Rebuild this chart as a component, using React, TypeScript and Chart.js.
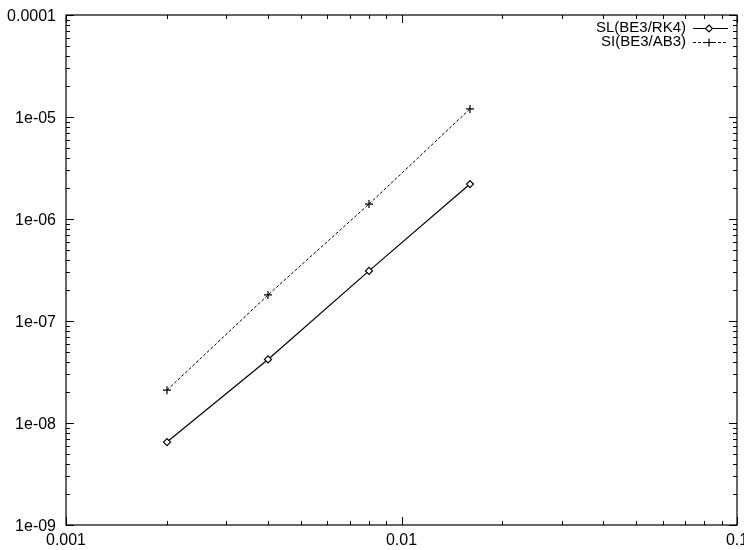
import React, { useEffect, useRef } from "react";
import { Chart, registerables } from "chart.js";

Chart.register(...registerables);

const xValues = [0.002, 0.004, 0.008, 0.016];
const slValues = [6.5e-9, 4.2e-8, 3.1e-7, 2.2e-6];
const siValues = [2.1e-8, 1.8e-7, 1.4e-6, 1.2e-5];
const seriesNames = ["SL(BE3/RK4)", "SI(BE3/AB3)"];

const xTickValues = [0.001, 0.01, 0.1];
const xTickLabels = ["0.001", "0.01", "0.1"];
const yTickValues = [1e-4, 1e-5, 1e-6, 1e-7, 1e-8, 1e-9];
const yTickLabels = ["0.0001", "1e-05", "1e-06", "1e-07", "1e-08", "1e-09"];

const FONT = "'Liberation Sans', Arial, sans-serif";

function minorValues(min: number, max: number): { v: number; major: boolean }[] {
  const out: { v: number; major: boolean }[] = [];
  let d = Math.pow(10, Math.floor(Math.log10(min) + 1e-9));
  while (d <= max * 1.0001) {
    for (let m = 1; m <= 9; m++) {
      const v = d * m;
      if (v >= min * 0.9999 && v <= max * 1.0001) out.push({ v, major: m === 1 });
    }
    d *= 10;
  }
  return out;
}

function drawMarker(ctx: CanvasRenderingContext2D, style: string, r: number, x: number, y: number) {
  ctx.save();
  ctx.strokeStyle = "#000";
  ctx.fillStyle = "#fff";
  ctx.lineWidth = 1.2;
  ctx.setLineDash([]);
  ctx.beginPath();
  if (style === "rectRot") {
    ctx.moveTo(x, y - r);
    ctx.lineTo(x + r, y);
    ctx.lineTo(x, y + r);
    ctx.lineTo(x - r, y);
    ctx.closePath();
    ctx.fill();
    ctx.stroke();
  } else {
    ctx.moveTo(x - r, y);
    ctx.lineTo(x + r, y);
    ctx.moveTo(x, y - r);
    ctx.lineTo(x, y + r);
    ctx.stroke();
  }
  ctx.restore();
}

const gnuplotPlugin = {
  id: "gnuplotFrame",
  afterDraw(chart: any) {
    const { ctx, chartArea, scales } = chart;
    const { left, right, top, bottom } = chartArea;
    const xs = scales.x;
    const ys = scales.y;
    ctx.save();
    ctx.strokeStyle = "#000";
    ctx.lineWidth = 1.2;
    ctx.strokeRect(left, top, right - left, bottom - top);

    const MAJ = 8;
    const MIN = 4;
    ctx.lineWidth = 1;
    ctx.beginPath();
    for (const t of minorValues(xs.min, xs.max)) {
      const px = Math.round(xs.getPixelForValue(t.v)) + 0.5;
      const len = t.major ? MAJ : MIN;
      ctx.moveTo(px, bottom);
      ctx.lineTo(px, bottom - len);
      ctx.moveTo(px, top);
      ctx.lineTo(px, top + len);
    }
    for (const t of minorValues(ys.min, ys.max)) {
      const py = Math.round(ys.getPixelForValue(t.v)) + 0.5;
      const len = t.major ? MAJ : MIN;
      ctx.moveTo(left, py);
      ctx.lineTo(left + len, py);
      ctx.moveTo(right, py);
      ctx.lineTo(right - len, py);
    }
    ctx.stroke();

    // tick labels
    ctx.fillStyle = "#000";
    ctx.font = `16px ${FONT}`;
    ctx.textAlign = "right";
    ctx.textBaseline = "middle";
    yTickValues.forEach((v, i) => {
      const py = ys.getPixelForValue(v);
      ctx.fillText(yTickLabels[i], left - 10, py + 2);
    });
    ctx.textAlign = "center";
    ctx.textBaseline = "middle";
    xTickValues.forEach((v, i) => {
      const px = xs.getPixelForValue(v);
      ctx.fillText(xTickLabels[i], px, bottom + 16);
    });

    // legend
    ctx.font = `15px ${FONT}`;
    ctx.textAlign = "right";
    const textRight = 686;
    const lineX0 = 693;
    const lineX1 = 728;
    const rows = [28, 42];
    chart.data.datasets.forEach((ds: any, i: number) => {
      const y = rows[i];
      ctx.fillStyle = "#000";
      ctx.fillText(seriesNames[i], textRight, y);
      ctx.save();
      ctx.strokeStyle = "#000";
      ctx.lineWidth = 1;
      ctx.setLineDash(ds.borderDash || []);
      ctx.beginPath();
      ctx.moveTo(lineX0, y + 0.5);
      ctx.lineTo(lineX1, y + 0.5);
      ctx.stroke();
      ctx.restore();
      const mx = Math.round((lineX0 + lineX1) / 2) - 2;
      drawMarker(ctx, ds.pointStyle, ds.pointRadius, mx, y + 0.5);
    });
    ctx.restore();
  },
};

export default function App() {
  const canvasRef = useRef<HTMLCanvasElement | null>(null);

  useEffect(() => {
    document.body.style.margin = "0";
    const canvas = canvasRef.current;
    if (!canvas) return;
    const chart = new Chart(canvas, {
      type: "scatter",
      data: {
        datasets: [
          {
            label: seriesNames[0],
            data: xValues.map((x, i) => ({ x, y: slValues[i] })),
            showLine: true,
            borderColor: "#000",
            borderWidth: 1.2,
            pointStyle: "rectRot",
            pointRadius: 3.5,
            pointBackgroundColor: "#fff",
            pointBorderColor: "#000",
            pointBorderWidth: 1.2,
          },
          {
            label: seriesNames[1],
            data: xValues.map((x, i) => ({ x, y: siValues[i] })),
            showLine: true,
            borderColor: "#000",
            borderWidth: 1,
            borderDash: [3, 2],
            pointStyle: "cross",
            pointRadius: 4,
            pointBorderColor: "#000",
            pointBorderWidth: 1.2,
          },
        ],
      },
      options: {
        responsive: false,
        animation: false,
        layout: { padding: { top: 15, right: 7, left: 0, bottom: 0 } },
        plugins: { legend: { display: false }, tooltip: { enabled: false } },
        scales: {
          x: {
            type: "logarithmic",
            min: 0.001,
            max: 0.1,
            ticks: { display: false },
            grid: { display: false, drawTicks: false },
            border: { display: false },
            afterFit: (s: any) => {
              s.height = 25;
            },
          },
          y: {
            type: "logarithmic",
            min: 1e-9,
            max: 1e-4,
            ticks: { display: false },
            grid: { display: false, drawTicks: false },
            border: { display: false },
            afterFit: (s: any) => {
              s.width = 66;
            },
          },
        },
      },
      plugins: [gnuplotPlugin],
    });
    return () => chart.destroy();
  }, []);

  return (
    <div style={{ width: 744, height: 550 }}>
      <canvas ref={canvasRef} width={744} height={550} />
    </div>
  );
}
